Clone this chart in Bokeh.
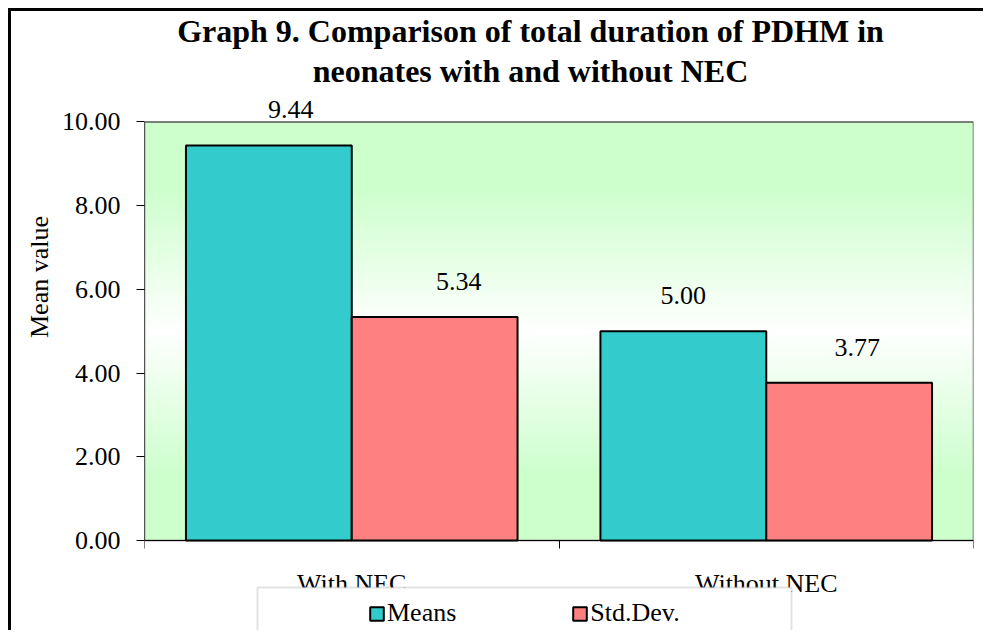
import numpy as np
from bokeh.plotting import figure
from bokeh.models import (Range1d, FixedTicker, PrintfTickFormatter, ColumnDataSource,
                          LabelSet, Label, Legend, LegendItem, BoxAnnotation)
from bokeh.core.properties import value
from bokeh.embed import file_html
from bokeh.resources import INLINE

# ---- data ----
categories = ["With NEC", "Without NEC"]
means = [9.44, 5.00]
std_devs = [5.34, 3.77]
series_names = ["Means", "Std.Dev."]
y_ticks = [0, 2, 4, 6, 8, 10]
y_max = 10

FONT = "Liberation Serif"
TEAL = "#33CCCC"
SALMON = "#FF8080"
GREEN = (204, 255, 204)
Y_TOP = 12.64          # room above the plot area for the title and value labels
Y_BOT = -2.222         # room below it for category labels and the legend
n_cat = len(categories)

p = figure(width=975, height=622, output_backend="svg", toolbar_location=None,
           x_range=Range1d(0, n_cat), y_range=Range1d(Y_BOT, Y_TOP),
           x_axis_location="above",
           min_border_left=133, min_border_right=13, min_border_top=0, min_border_bottom=0)
p.title = None
p.margin = (8, 0, 0, 8)
p.styles = {"border-left": "3px solid black", "border-top": "3px solid black",
            "border-right": "none", "border-bottom": "none"}
p.background_fill_color = "white"
p.border_fill_color = "white"
p.outline_line_color = None
p.xgrid.visible = False
p.ygrid.visible = False

# plot-area background: green at top and bottom, fading to white in the middle
n = 400
v = np.linspace(0.0, 1.0, n)
t = np.clip(np.abs(v - 0.5) / 0.5 / 0.7, 0, 1)
img = np.empty((n, 1), dtype=np.uint32)
rgba = img.view(dtype=np.uint8).reshape((n, 1, 4))
rgba[..., 0] = (255 - (255 - GREEN[0]) * t).astype(np.uint8)[:, None]
rgba[..., 1] = 255
rgba[..., 2] = (255 - (255 - GREEN[2]) * t).astype(np.uint8)[:, None]
rgba[..., 3] = 255
p.image_rgba(image=[img], x=0, y=0, dw=n_cat, dh=y_max)

# plot-area border (grey), left edge as a black axis line
p.quad(left=0, right=n_cat, bottom=0, top=y_max, fill_color=None,
       line_color="#555555", line_width=1.5)
p.segment(x0=0, y0=0, x1=0, y1=y_max, line_color="black", line_width=1)

# grouped bars
idx = np.arange(n_cat)
bar_w = 0.4
src = ColumnDataSource(dict(x_means=idx + 0.5 - bar_w / 2, x_std=idx + 0.5 + bar_w / 2,
                            means=means, std=std_devs))
r_means = p.vbar(x="x_means", top="means", bottom=0, width=bar_w, source=src,
                 fill_color=TEAL, line_color="black", line_width=2)
r_std = p.vbar(x="x_std", top="std", bottom=0, width=bar_w, source=src,
               fill_color=SALMON, line_color="black", line_width=2)

# value labels above bars (small horizontal nudges per label)
label_nudge = [22, 0, 24, 8]
lbl_src = ColumnDataSource(dict(
    x=list(idx + 0.5 - bar_w / 2) + list(idx + 0.5 + bar_w / 2),
    y=means + std_devs,
    text=[f"{val:.2f}" for val in means + std_devs],
    dx=label_nudge,
))
p.add_layout(LabelSet(x="x", y="y", text="text", x_offset="dx", y_offset=27, source=lbl_src,
                      text_font=value(FONT), text_font_size="26px", text_color="black",
                      text_align="center", text_baseline="alphabetic"))

# y axis; leading no-break spaces lift the centred axis title towards the plot area
yax = p.yaxis[0]
yax.ticker = FixedTicker(ticks=y_ticks, minor_ticks=[])
yax.formatter = PrintfTickFormatter(format="%.2f")
yax.axis_label = "\u00a0" * 14 + "Mean value"
yax.axis_label_text_font = FONT
yax.axis_label_text_font_size = "26px"
yax.axis_label_text_font_style = "normal"
yax.axis_label_text_color = "black"
yax.axis_label_standoff = 5
yax.major_label_text_font = FONT
yax.major_label_text_font_size = "26px"
yax.major_label_text_color = "black"
yax.major_label_standoff = 16
yax.major_tick_out = 8
yax.major_tick_in = 0
yax.minor_tick_line_color = None
yax.axis_line_color = None
yax.major_tick_line_color = "black"

# x axis drawn along y = 0: tick marks at category boundaries, labels at centres
xax = p.xaxis[0]
xax.fixed_location = 0
xax.ticker = FixedTicker(ticks=[i + 0.5 for i in idx],
                         minor_ticks=list(range(n_cat + 1)))
xax.major_label_overrides = {float(i + 0.5): c for i, c in enumerate(categories)}
xax.major_tick_line_color = None
xax.major_tick_out = 0
xax.major_tick_in = 0
xax.minor_tick_line_color = "black"
xax.minor_tick_out = 0
xax.minor_tick_in = 8
xax.major_label_standoff = -57
xax.major_label_text_font = FONT
xax.major_label_text_font_size = "26px"
xax.major_label_text_color = "black"
xax.axis_line_color = "black"

# title
p.add_layout(Label(x=386, y=621, x_units="screen", y_units="screen",
                   text="Graph 9. Comparison of total duration of PDHM in\nneonates with and without NEC",
                   text_align="center", text_baseline="top", text_font=FONT,
                   text_font_size="32px", text_font_style="bold", text_color="black",
                   text_line_height=1.12))

# legend frame and legend
p.add_layout(BoxAnnotation(left=113, right=647, top=46, bottom=-20,
                           left_units="screen", right_units="screen",
                           top_units="screen", bottom_units="screen",
                           fill_color="white", fill_alpha=1.0,
                           line_color="#A0A0A0", line_width=2))
legend = Legend(items=[LegendItem(label=series_names[0], renderers=[r_means]),
                       LegendItem(label=series_names[1], renderers=[r_std])],
                orientation="horizontal", location=(224, 5),
                padding=0, margin=0, spacing=115, label_standoff=2,
                glyph_width=17, glyph_height=17, label_height=29,
                label_text_font=FONT, label_text_font_size="26px", label_text_color="black",
                border_line_color=None, background_fill_alpha=0)
p.add_layout(legend)

open("out.html", "w").write(file_html(p, INLINE))
